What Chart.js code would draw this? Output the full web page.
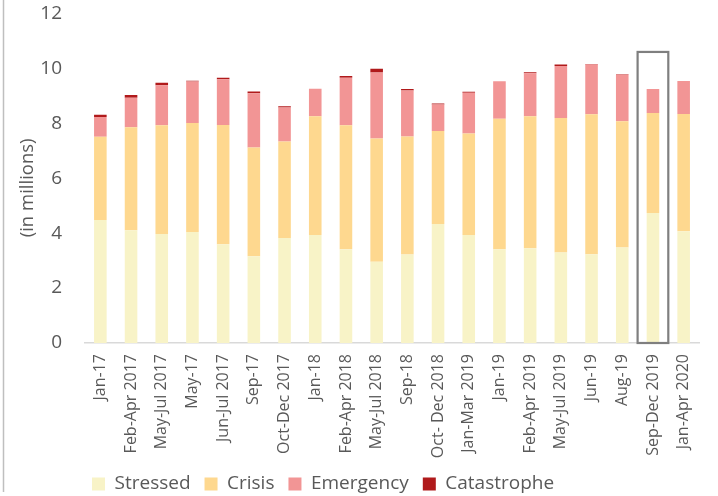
<!DOCTYPE html>
<html>
<head>
<meta charset="utf-8">
<script src="https://cdn.jsdelivr.net/npm/chart.js@4/dist/chart.umd.min.js"></script>
<style>
  html, body { margin: 0; padding: 0; background: #ffffff; }
  #wrap { width: 718px; height: 496px; position: relative; }
</style>
</head>
<body>
<div id="wrap"><canvas id="c" width="718" height="496"></canvas></div>
<script>
const categories = ['Jan-17','Feb-Apr 2017','May-Jul 2017','May-17','Jun-Jul 2017','Sep-17','Oct-Dec 2017','Jan-18','Feb-Apr 2018','May-Jul 2018','Sep-18','Oct- Dec 2018','Jan-Mar 2019','Jan-19','Feb-Apr 2019','May-Jul 2019','Jun-19','Aug-19','Sep-Dec 2019','Jan-Apr 2020'];
const stressed    = [4.48,4.11,3.97,4.04,3.60,3.16,3.82,3.93,3.41,2.96,3.22,4.33,3.93,3.41,3.45,3.30,3.23,3.48,4.73,4.07];
const crisis      = [3.03,3.75,3.96,3.97,4.34,3.96,3.52,4.33,4.52,4.49,4.30,3.39,3.70,4.76,4.81,4.89,5.10,4.60,3.65,4.27];
const emergency   = [0.72,1.07,1.46,1.51,1.67,1.98,1.24,1.00,1.73,2.40,1.68,0.97,1.48,1.36,1.56,1.90,1.81,1.69,0.87,1.20];
const catastrophe = [0.08,0.10,0.09,0.03,0.05,0.06,0.04,0.00,0.06,0.14,0.05,0.03,0.04,0.00,0.04,0.05,0.02,0.02,0.00,0.00];
const yTicks = [0,2,4,6,8,10,12];
const highlightIndex = 18;
const highlightTop = 10.6;

const textColor = '#595959';
const fontFamily = '"Open Sans", "Liberation Sans", sans-serif';
const legendStartX = 92;

const extras = {
  id: 'extras',
  afterLayout(chart) {
    const lg = chart.legend;
    if (lg && lg.lineWidths && lg.lineWidths.length) {
      const p = lg.options.labels.padding;
      const cur = (lg.left + p + lg.right - lg.lineWidths[0]) / 2;
      const dx = legendStartX - cur;
      lg.left += dx; lg.right += dx;
    }
  },
  afterDatasetsDraw(chart) {
    const ctx = chart.ctx;
    const x = chart.scales.x, y = chart.scales.y;
    const cx = x.getPixelForValue(highlightIndex);
    const half = (x.getPixelForValue(1) - x.getPixelForValue(0)) / 2;
    const top = y.getPixelForValue(highlightTop);
    const bottom = y.getPixelForValue(0);
    ctx.save();
    ctx.strokeStyle = '#7F7F7F';
    ctx.lineWidth = 2.2;
    ctx.strokeRect(cx - half, top, half * 2, bottom - top);
    ctx.restore();
  },
  afterDraw(chart) {
    const ctx = chart.ctx;
    ctx.save();
    ctx.strokeStyle = '#BFBFBF';
    ctx.lineWidth = 1.5;
    ctx.beginPath();
    ctx.moveTo(3.5, 0);
    ctx.lineTo(3.5, 492);
    ctx.stroke();
    ctx.restore();
  }
};

new Chart(document.getElementById('c'), {
  type: 'bar',
  data: {
    labels: categories,
    datasets: [
      { label: 'Stressed', data: stressed, backgroundColor: '#F8F3C7' },
      { label: 'Crisis', data: crisis, backgroundColor: '#FED88F' },
      { label: 'Emergency', data: emergency, backgroundColor: '#F29595' },
      { label: 'Catastrophe', data: catastrophe, backgroundColor: '#B01A1B' }
    ]
  },
  options: {
    responsive: false,
    animation: false,
    datasets: { bar: { categoryPercentage: 1, barPercentage: 0.41 } },
    layout: { padding: { left: 17, right: 19, top: 0, bottom: -7.5 } },
    plugins: {
      legend: {
        position: 'bottom',
        labels: {
          boxWidth: 13, boxHeight: 13, padding: 14,
          color: textColor,
          font: { family: fontFamily, size: 19 }
        }
      },
      tooltip: { enabled: false }
    },
    scales: {
      x: {
        stacked: true,
        afterFit(axis) { axis.height = 117.5; },
        grid: { display: false, drawTicks: false },
        border: { display: true, color: '#D9D9D9', width: 1.5 },
        ticks: {
          autoSkip: false, maxRotation: 90, minRotation: 90, padding: 11,
          color: textColor,
          font: { family: fontFamily, size: 16 }
        }
      },
      y: {
        stacked: true,
        min: 0, max: 12,
        afterBuildTicks(axis) { axis.ticks = yTicks.map(v => ({ value: v })); },
        afterFit(axis) { axis.width = 68; axis.paddingTop = 13.5; axis.paddingBottom = 12; },
        grid: { display: false, drawTicks: false },
        border: { display: false },
        ticks: {
          padding: 23,
          color: textColor,
          font: { family: fontFamily, size: 19 }
        },
        title: {
          display: true,
          text: '(in millions)\u00A0\u00A0\u00A0\u00A0',
          color: textColor,
          font: { family: fontFamily, size: 18.5 },
          padding: { top: 0, bottom: 4 }
        }
      }
    }
  },
  plugins: [extras]
});
</script>
</body>
</html>
